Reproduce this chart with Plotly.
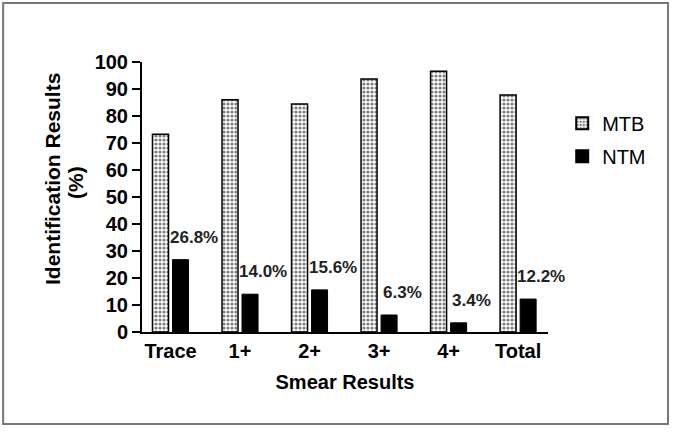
import plotly.graph_objects as go

categories = ["Trace", "1+", "2+", "3+", "4+", "Total"]
mtb = [73.2, 86.0, 84.4, 93.7, 96.6, 87.8]
ntm = [26.8, 14.0, 15.6, 6.3, 3.4, 12.2]
ntm_labels = ["26.8%", "14.0%", "15.6%", "6.3%", "3.4%", "12.2%"]
yticks = list(range(0, 101, 10))

FONT = "Liberation Sans, Arial, sans-serif"

fig = go.Figure()
fig.add_trace(go.Bar(
    x=categories, y=mtb, name="MTB", legendgroup="a",
    marker=dict(color="white", line=dict(color="black", width=1.5),
                pattern=dict(shape=".", fgcolor="black", bgcolor="white", size=4, solidity=0.5)),
))
fig.add_trace(go.Bar(
    x=categories, y=ntm, name="NTM", legendgroup="b",
    marker=dict(color="black", line=dict(color="black", width=1)),
))

for c, v, t in zip(categories, ntm, ntm_labels):
    fig.add_annotation(x=c, y=v, text=t, showarrow=False, xref="x", yref="y",
                       xanchor="center", yanchor="bottom", xshift=23, yshift=11,
                       font=dict(family=FONT, size=17, color="#222", weight="bold"))

# y-axis title as two rotated lines
fig.add_annotation(text="Identification Results", textangle=-90, showarrow=False,
                   xref="paper", yref="paper", x=(52 - 142) / 406, y=(332 - 179) / 270,
                   xanchor="center", yanchor="middle",
                   font=dict(family=FONT, size=21, color="black", weight="bold"))
fig.add_annotation(text="(%)", textangle=-90, showarrow=False,
                   xref="paper", yref="paper", x=(75 - 142) / 406, y=(332 - 183) / 270,
                   xanchor="center", yanchor="middle",
                   font=dict(family=FONT, size=21, color="black", weight="bold"))

fig.add_shape(type="rect", xref="paper", yref="paper",
              x0=-0.342, x1=1.2956, y0=-0.3407, y1=1.2185,
              line=dict(color="#777", width=2), fillcolor="rgba(0,0,0,0)", layer="below")

fig.update_layout(
    width=678, height=441,
    margin=dict(l=142, r=130, t=62, b=109),
    paper_bgcolor="white", plot_bgcolor="white",
    barmode="group", bargap=0.424, bargroupgap=0.2,
    font=dict(family=FONT, color="black"),
    showlegend=True,
    legend=dict(x=1.035, y=0.845, xanchor="left", yanchor="top",
                font=dict(family=FONT, size=20, color="black"),
                traceorder="grouped", tracegroupgap=4, itemsizing="constant"),
    xaxis=dict(showline=True, linecolor="black", linewidth=2, ticks="",
               range=[-0.41, 5.43],
               tickfont=dict(family=FONT, size=20, color="black", weight="bold"),
               title=dict(text="Smear Results", font=dict(family=FONT, size=20, color="black", weight="bold"), standoff=14),
               showgrid=False, zeroline=False),
    yaxis=dict(range=[0, 100], tickvals=yticks, showline=True, linecolor="black", linewidth=2,
               ticks="outside", ticklen=8, tickwidth=2, tickcolor="black",
               tickfont=dict(family=FONT, size=20, color="black", weight="bold"),
               showgrid=False, zeroline=False),
)

fig.write_html("out.html")
